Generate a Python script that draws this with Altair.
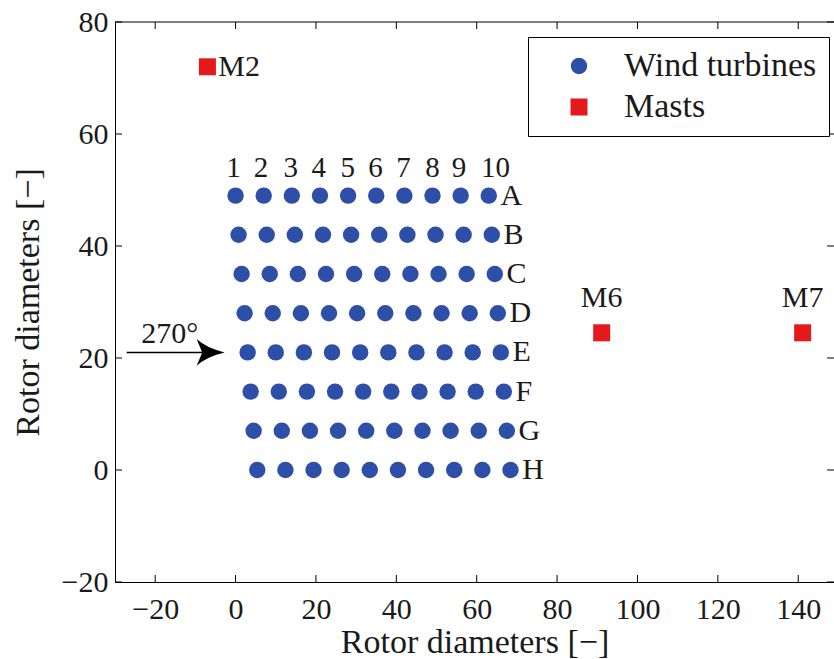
import altair as alt
import pandas as pd

# ---------------- data ----------------
row_names = ["A", "B", "C", "D", "E", "F", "G", "H"]
row_y = [49, 42, 35, 28, 21, 14, 7, 0]
row_shift = [0.0, 0.75, 1.5, 2.25, 3.0, 3.75, 4.5, 5.4]
col_x = [0, 7, 14, 21, 28, 35, 42, 49, 56, 63]

col_labels = ["1", "2", "3", "4", "5", "6", "7", "8", "9", "10"]
col_label_x = [-0.5, 6.3, 13.7, 20.7, 27.9, 34.8, 41.8, 49.0, 55.6, 64.7]
col_label_y = 52.3
row_label_gap = 2.9

mast_names = ["M2", "M6", "M7"]
mast_x = [-7.0, 91.1, 141.1]
mast_y = [72.0, 24.5, 24.5]
mast_label_x = [-4.3, 91.1, 141.1]
mast_label_y = [72.0, 29.1, 29.1]

arrow_x = [-27.1, -6.2]
arrow_y = 21
arrow_text = "270°"
arrow_text_x = -16.4
arrow_text_y = 22.7

legend_names = ["Wind turbines", "Masts"]

x_ticks = [-20, 0, 20, 40, 60, 80, 100, 120, 140]
y_ticks = [-20, 0, 20, 40, 60, 80]
x_domain = [-30, 148.9]
y_domain = [-20, 80]

BLUE = "#2D4FA8"
RED = "#E3191C"
FONT = "Liberation Serif"

W, H = 719, 560

# ---------------- tables ----------------
pts = []
for name, y, s in zip(row_names, row_y, row_shift):
    for c in col_x:
        pts.append({"x": c + s, "y": y, "type": legend_names[0]})
for n, x, y in zip(mast_names, mast_x, mast_y):
    pts.append({"x": x, "y": y, "type": legend_names[1]})
pts_df = pd.DataFrame(pts)

row_lab_df = pd.DataFrame({
    "x": [s + col_x[-1] + row_label_gap for s in row_shift],
    "y": row_y,
    "t": row_names,
})
col_lab_df = pd.DataFrame({"x": col_label_x, "y": [col_label_y] * len(col_labels), "t": col_labels})
m2_df = pd.DataFrame({"x": mast_label_x[:1], "y": mast_label_y[:1], "t": mast_names[:1]})
m67_df = pd.DataFrame({"x": mast_label_x[1:], "y": mast_label_y[1:], "t": mast_names[1:]})
arrow_df = pd.DataFrame({"x": [arrow_x[0]], "x2": [arrow_x[1]], "y": [arrow_y]})
head_df = pd.DataFrame({"x": [arrow_x[1]], "y": [arrow_y]})
atext_df = pd.DataFrame({"x": [arrow_text_x], "y": [arrow_text_y], "t": [arrow_text]})
xt_df = pd.DataFrame({"v": x_ticks})
yt_df = pd.DataFrame({"v": y_ticks})

xs = alt.Scale(domain=x_domain, nice=False, zero=False)
ys = alt.Scale(domain=y_domain, nice=False, zero=False)

X = alt.X("x:Q", scale=xs, title="Rotor diameters [\u2212]",
          axis=alt.Axis(values=x_ticks, ticks=False, grid=False, labelPadding=12,
                        titlePadding=1, labelFlush=False))
Y = alt.Y("y:Q", scale=ys, title="Rotor diameters [\u2212]",
          axis=alt.Axis(values=y_ticks, ticks=False, grid=False, labelPadding=7,
                        titlePadding=16, labelFlush=False))

leg = alt.Legend(
    title=None, orient="none", legendX=413, legendY=15,
    strokeColor="black", fillColor="white", padding=12, rowPadding=7,
    labelFont=FONT, labelFontSize=34, labelColor="#1a1a1a", labelLimit=400,
    symbolSize=300, symbolOffset=22, labelOffset=28, symbolStrokeWidth=0,
)

points = alt.Chart(pts_df).mark_point(filled=True, opacity=1).encode(
    x=X, y=Y,
    color=alt.Color("type:N", scale=alt.Scale(domain=legend_names, range=[BLUE, RED]), legend=leg),
    shape=alt.Shape("type:N", scale=alt.Scale(domain=legend_names, range=["circle", "square"]), legend=leg),
    size=alt.Size("type:N", scale=alt.Scale(domain=legend_names, range=[270, 289]), legend=None),
)

txt_common = dict(font=FONT, color="#1a1a1a")
row_labels = alt.Chart(row_lab_df).mark_text(align="left", baseline="middle", fontSize=30, **txt_common).encode(
    x=alt.X("x:Q", scale=xs), y=alt.Y("y:Q", scale=ys), text="t:N")
col_labels_l = alt.Chart(col_lab_df).mark_text(align="center", baseline="alphabetic", fontSize=29, **txt_common).encode(
    x=alt.X("x:Q", scale=xs), y=alt.Y("y:Q", scale=ys), text="t:N")
m2_lab = alt.Chart(m2_df).mark_text(align="left", baseline="middle", fontSize=30, **txt_common).encode(
    x=alt.X("x:Q", scale=xs), y=alt.Y("y:Q", scale=ys), text="t:N")
m67_lab = alt.Chart(m67_df).mark_text(align="center", baseline="alphabetic", fontSize=30, **txt_common).encode(
    x=alt.X("x:Q", scale=xs), y=alt.Y("y:Q", scale=ys), text="t:N")

arrow_line = alt.Chart(arrow_df).mark_rule(color="black", strokeWidth=1.5).encode(
    x=alt.X("x:Q", scale=xs), x2="x2:Q", y=alt.Y("y:Q", scale=ys))
arrow_head = alt.Chart(head_df).mark_point(
    shape="M-1,-0.95Q-0.3,-0.3 1,0Q-0.3,0.3 -1,0.95L-0.6,0Z", filled=True, color="black", size=784,
    opacity=1, strokeWidth=0
).encode(x=alt.X("x:Q", scale=xs), y=alt.Y("y:Q", scale=ys))
arrow_label = alt.Chart(atext_df).mark_text(align="center", baseline="alphabetic", fontSize=30, **txt_common).encode(
    x=alt.X("x:Q", scale=xs), y=alt.Y("y:Q", scale=ys), text="t:N")

# inward ticks and the top border
tick_len = 7
bt = alt.Chart(xt_df).mark_rule(color="black", strokeWidth=1).encode(
    x=alt.X("v:Q", scale=xs), y=alt.value(H), y2=alt.value(H - tick_len))
tt = alt.Chart(xt_df).mark_rule(color="black", strokeWidth=1).encode(
    x=alt.X("v:Q", scale=xs), y=alt.value(0), y2=alt.value(tick_len))
lt = alt.Chart(yt_df).mark_rule(color="black", strokeWidth=1).encode(
    y=alt.Y("v:Q", scale=ys), x=alt.value(0), x2=alt.value(tick_len))
rt = alt.Chart(yt_df).mark_rule(color="black", strokeWidth=1).encode(
    y=alt.Y("v:Q", scale=ys), x=alt.value(W - tick_len), x2=alt.value(W))
top_border = alt.Chart(xt_df.head(1)).mark_rule(color="black", strokeWidth=1).encode(
    x=alt.value(0), x2=alt.value(W), y=alt.value(0))

chart = alt.layer(
    points,
    bt, tt, lt, rt, top_border,
    arrow_line, arrow_head, arrow_label,
    row_labels, col_labels_l, m2_lab, m67_lab,
).properties(
    width=W, height=H,
    autosize=alt.AutoSizeParams(type="none"),
    padding={"left": 115, "top": 22, "right": 0, "bottom": 77},
    background="white",
).configure_view(
    stroke=None
).configure_axis(
    labelFont=FONT, titleFont=FONT, labelFontSize=30, titleFontSize=34,
    labelColor="#1a1a1a", titleColor="#1a1a1a", titleFontWeight="normal",
    domainColor="black", domainWidth=1,
)

chart.save("out.html", embed_options={"renderer": "svg", "actions": False})
